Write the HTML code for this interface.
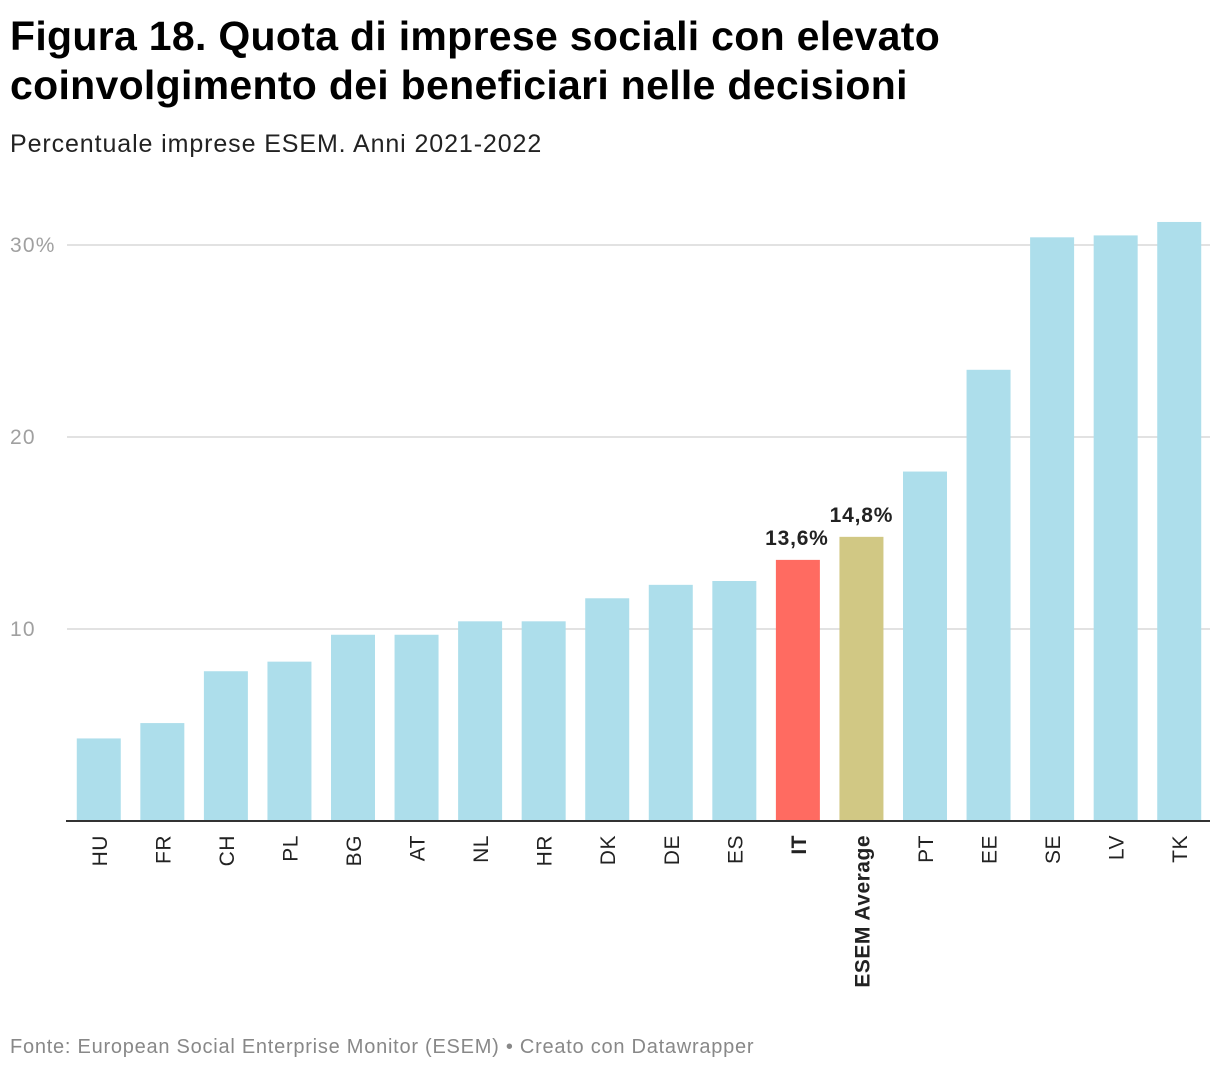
<!DOCTYPE html>
<html><head><meta charset="utf-8">
<style>
body{margin:0;background:#fff;font-family:"Liberation Sans",sans-serif;width:1220px;height:1072px;overflow:hidden;position:relative}
h1{position:absolute;left:10px;top:12px;margin:0;font-size:41px;line-height:49px;font-weight:bold;color:#000;letter-spacing:0.3px}
.sub{position:absolute;left:10px;top:130px;font-size:25px;color:#222;letter-spacing:0.9px}
.foot{position:absolute;left:10px;top:1036px;font-size:20px;color:#888;letter-spacing:0.75px}
svg{position:absolute;left:0;top:0}
</style></head><body>
<h1>Figura 18. Quota di imprese sociali con elevato<br>coinvolgimento dei beneficiari nelle decisioni</h1>
<div class="sub">Percentuale imprese ESEM. Anni 2021-2022</div>
<div class="foot">Fonte: European Social Enterprise Monitor (ESEM) • Creato con Datawrapper</div>
<svg id="chart" width="1220" height="1072"></svg>
<script>
const categories=["HU","FR","CH","PL","BG","AT","NL","HR","DK","DE","ES","IT","ESEM Average","PT","EE","SE","LV","TK"];
const values=[4.3,5.1,7.8,8.3,9.7,9.7,10.4,10.4,11.6,12.3,12.5,13.6,14.8,18.2,23.5,30.4,30.5,31.2];
const ticks=[10,20,30];
const tickLabels=["10","20","30%"];
const ns="http://www.w3.org/2000/svg";
const svg=document.getElementById("chart");
const left=67,right=1211,y0=821,pxPerUnit=19.2;
const band=(right-left)/categories.length,bw=44;
const y=v=>y0-v*pxPerUnit;
const x=i=>left+band*i+(band-bw)/2;
function mk(t,a){const e=document.createElementNS(ns,t);for(const k in a)e.setAttribute(k,a[k]);svg.appendChild(e);return e;}
ticks.forEach((t,i)=>{
 const g=mk("line",{x1:67,x2:1210,y1:y(t),y2:y(t),stroke:"#e2e2e2","stroke-width":2});
 
 
 const l=mk("text",{x:10,y:y(t)+7,"font-size":21,fill:"#a0a0a0","letter-spacing":"1.2","font-family":"Liberation Sans"});
 l.textContent=tickLabels[i];
 
 
});
categories.forEach((c,i)=>{
 const col=c==="IT"?"#ff6b61":c==="ESEM Average"?"#d1c884":"#addeeb";
 const r=mk("rect",{x:x(i),y:y(values[i]),width:bw,height:values[i]*pxPerUnit,fill:col});
 
 
 const bold=(c==="IT"||c==="ESEM Average");
 const cx=x(i)+bw/2+8;
 const t=mk("text",{x:cx,y:835,"font-size":21,fill:"#222","text-anchor":"end","letter-spacing":"0.5","font-weight":bold?"bold":"normal",transform:`rotate(-90 ${cx} 835)`,"font-family":"Liberation Sans"});
 t.textContent=c;
 
 
 if(bold){
  const v=mk("text",{x:x(i)+bw/2-(c==="IT"?1:0),y:y(values[i])-15,"font-size":21,"font-weight":"bold","letter-spacing":"0.8",fill:"#222","text-anchor":"middle","font-family":"Liberation Sans"});
  v.textContent=values[i].toFixed(1).replace(".",",")+"%";
  
  
 }
});
const ax=mk("line",{x1:66,x2:1210,y1:y0,y2:y0,stroke:"#333","stroke-width":2});


</script>
</body></html>
